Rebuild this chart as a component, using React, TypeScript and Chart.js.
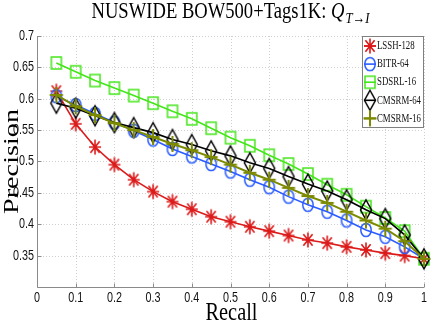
import React, { useEffect, useRef } from 'react';
import { Chart, registerables } from 'chart.js';

Chart.register(...registerables);

// ---------- data ----------
const recall = [0.05, 0.1, 0.15, 0.2, 0.25, 0.3, 0.35, 0.4, 0.45, 0.5, 0.55, 0.6, 0.65, 0.7, 0.75, 0.8, 0.85, 0.9, 0.95, 1.0];
const lssh128 = [0.612, 0.560, 0.523, 0.495, 0.471, 0.452, 0.436, 0.424, 0.412, 0.404, 0.396, 0.389, 0.382, 0.375, 0.370, 0.364, 0.359, 0.354, 0.350, 0.345];
const bitr64 = [0.604, 0.590, 0.576, 0.562, 0.549, 0.535, 0.520, 0.508, 0.496, 0.484, 0.471, 0.459, 0.444, 0.431, 0.420, 0.406, 0.391, 0.380, 0.364, 0.345];
const sdsrl16 = [0.657, 0.643, 0.629, 0.617, 0.605, 0.593, 0.580, 0.568, 0.553, 0.538, 0.525, 0.510, 0.496, 0.480, 0.463, 0.447, 0.428, 0.410, 0.389, 0.345];
const cmsrm64 = [0.593, 0.585, 0.573, 0.562, 0.554, 0.546, 0.535, 0.527, 0.517, 0.509, 0.498, 0.489, 0.476, 0.464, 0.453, 0.439, 0.423, 0.409, 0.383, 0.345];
const cmsrm16 = [0.606, 0.588, 0.574, 0.561, 0.550, 0.539, 0.528, 0.518, 0.507, 0.495, 0.482, 0.471, 0.458, 0.445, 0.434, 0.420, 0.406, 0.393, 0.373, 0.345];
const seriesNames = ['LSSH-128', 'BITR-64', 'SDSRL-16', 'CMSRM-64', 'CMSRM-16'];
const seriesValues = [lssh128, bitr64, sdsrl16, cmsrm64, cmsrm16];

const xTicks = [0, 0.1, 0.2, 0.3, 0.4, 0.5, 0.6, 0.7, 0.8, 0.9, 1];
const xTickLabels = ['0', '0.1', '0.2', '0.3', '0.4', '0.5', '0.6', '0.7', '0.8', '0.9', '1'];
const yTicks = [0.35, 0.4, 0.45, 0.5, 0.55, 0.6, 0.65, 0.7];
const yTickLabels = ['0.35', '0.4', '0.45', '0.5', '0.55', '0.6', '0.65', '0.7'];

const titleMain = 'NUSWIDE BOW500+Tags1K: ';
const titleSym = 'Q';
const titleSub = 'T\u2192I';
const xTitle = 'Recall';
const yTitle = 'Precision';

// ---------- styles ----------
const colors = ['#dc1a1a', '#2a5cff', '#44e61a', '#000000', '#7c8a00'];
const markerKinds = ['star', 'ellipse', 'square', 'diamond', 'cross'];
const lineWidths = [1.6, 1.6, 1.6, 1.6, 2];
const SERIF = '"Liberation Serif", "DejaVu Serif", serif';
const SANS = '"Liberation Sans", Arial, sans-serif';

function makeMarker(kind: string, color: string): HTMLCanvasElement {
  const c = document.createElement('canvas');
  c.width = 26;
  c.height = 26;
  const g = c.getContext('2d') as CanvasRenderingContext2D;
  g.translate(13, 13);
  g.strokeStyle = color;
  g.lineWidth = 1.5;
  g.beginPath();
  if (kind === 'star') {
    g.moveTo(-6, 0); g.lineTo(6, 0);
    g.moveTo(0, -7.5); g.lineTo(0, 7.5);
    g.moveTo(-4.6, -5.8); g.lineTo(4.6, 5.8);
    g.moveTo(-4.6, 5.8); g.lineTo(4.6, -5.8);
    g.lineWidth = 1.6;
  } else if (kind === 'ellipse') {
    g.ellipse(0, 0, 5.2, 6.6, 0, 0, Math.PI * 2);
  } else if (kind === 'square') {
    g.rect(-5, -6, 10, 12);
  } else if (kind === 'diamond') {
    g.moveTo(0, -10); g.lineTo(5.5, 0); g.lineTo(0, 10); g.lineTo(-5.5, 0); g.closePath();
  } else if (kind === 'cross') {
    g.moveTo(-6.5, 0); g.lineTo(6.5, 0);
    g.moveTo(0, -8); g.lineTo(0, 8);
    g.lineWidth = 2;
  }
  g.stroke();
  return c;
}

function drawScaled(
  ctx: CanvasRenderingContext2D, text: string, x: number, y: number, font: string,
  align: CanvasTextAlign, baseline: CanvasTextBaseline, sx: number, sy: number, rot = 0, color = '#000'
) {
  ctx.save();
  ctx.translate(x, y);
  if (rot) ctx.rotate(rot);
  ctx.scale(sx, sy);
  ctx.font = font;
  ctx.fillStyle = color;
  ctx.textAlign = align;
  ctx.textBaseline = baseline;
  ctx.fillText(text, 0, 0);
  ctx.restore();
}

export default function App() {
  const ref = useRef<HTMLCanvasElement | null>(null);

  useEffect(() => {
    const canvas = ref.current;
    if (!canvas) return;
    const markers = markerKinds.map((k, i) => makeMarker(k, colors[i]));

    const customPlugin = {
      id: 'matlabStyle',
      beforeDatasetsDraw(chart: any) {
        const ctx: CanvasRenderingContext2D = chart.ctx;
        const { left, right, top, bottom } = chart.chartArea;
        const xs = chart.scales.x;
        const ys = chart.scales.y;
        ctx.save();
        // grid
        ctx.strokeStyle = '#cfcfcf';
        ctx.lineWidth = 1;
        ctx.setLineDash([1, 2]);
        xTicks.forEach((v) => {
          if (v === 0) return;
          const px = Math.round(xs.getPixelForValue(v)) + 0.5;
          ctx.beginPath(); ctx.moveTo(px, top); ctx.lineTo(px, bottom); ctx.stroke();
        });
        yTicks.forEach((v) => {
          const py = Math.round(ys.getPixelForValue(v)) + 0.5;
          ctx.beginPath(); ctx.moveTo(left, py); ctx.lineTo(right, py); ctx.stroke();
        });
        ctx.setLineDash([]);
        // axes
        ctx.strokeStyle = '#8a8a8a';
        const L = Math.round(left) + 0.5;
        const B = Math.round(bottom) + 0.5;
        ctx.beginPath(); ctx.moveTo(L, top); ctx.lineTo(L, B); ctx.lineTo(right, B); ctx.stroke();
        // inward ticks
        xTicks.forEach((v) => {
          const px = Math.round(xs.getPixelForValue(v)) + 0.5;
          ctx.beginPath(); ctx.moveTo(px, B); ctx.lineTo(px, B - 4); ctx.stroke();
        });
        yTicks.forEach((v) => {
          const py = Math.round(ys.getPixelForValue(v)) + 0.5;
          ctx.beginPath(); ctx.moveTo(L, py); ctx.lineTo(L + 4, py); ctx.stroke();
        });
        ctx.restore();
      },
      afterDraw(chart: any) {
        const ctx: CanvasRenderingContext2D = chart.ctx;
        const { left, right, top, bottom } = chart.chartArea;
        const xs = chart.scales.x;
        const ys = chart.scales.y;
        ctx.save();
        // tick labels
        const tickFont = `12px ${SANS}`;
        ctx.font = tickFont;
        const tsx = 21 / ctx.measureText('0.65').width;
        yTicks.forEach((v, i) => {
          drawScaled(ctx, yTickLabels[i], left - 3, ys.getPixelForValue(v), tickFont, 'right', 'middle', tsx, 1.2, 0, '#111');
        });
        xTicks.forEach((v, i) => {
          drawScaled(ctx, xTickLabels[i], xs.getPixelForValue(v), bottom + 11, tickFont, 'center', 'middle', tsx, 1.2, 0, '#111');
        });

        // axis titles
        const xFont = `20px ${SERIF}`;
        ctx.font = xFont;
        const xsx = 52 / ctx.measureText(xTitle).width;
        drawScaled(ctx, xTitle, (left + right) / 2 + 1, 320, xFont, 'center', 'alphabetic', xsx, 1.25);
        const yFont = `22px ${SERIF}`;
        ctx.font = yFont;
        const ysx = 105 / ctx.measureText(yTitle).width;
        drawScaled(ctx, yTitle, 18, (top + bottom) / 2, yFont, 'center', 'alphabetic', ysx, 1, -Math.PI / 2);

        // title
        const mainFont = `19px ${SERIF}`;
        const symFont = `italic 19px ${SERIF}`;
        const subFont = `italic 13px ${SERIF}`;
        ctx.font = mainFont; const w1 = ctx.measureText(titleMain).width;
        ctx.font = symFont; const w2 = ctx.measureText(titleSym).width + 1;
        ctx.font = subFont; const w3 = ctx.measureText(titleSub).width;
        const target = 278;
        const tsxT = target / (w1 + w2 + w3);
        const startX = (left + right) / 2 - target / 2;
        ctx.save();
        ctx.translate(startX, 18);
        ctx.scale(tsxT, 1.2);
        ctx.fillStyle = '#000';
        ctx.textAlign = 'left';
        ctx.textBaseline = 'alphabetic';
        ctx.font = mainFont; ctx.fillText(titleMain, 0, 0);
        ctx.font = symFont; ctx.fillText(titleSym, w1, 0);
        ctx.font = subFont; ctx.fillText(titleSub, w1 + w2, 4);
        ctx.restore();

        // legend
        const bx = 362.5, by = 36.5, bw = 61, bh = 91;
        ctx.fillStyle = '#ffffff';
        ctx.fillRect(bx, by, bw, bh);
        ctx.strokeStyle = '#808080';
        ctx.lineWidth = 1;
        ctx.strokeRect(bx, by, bw, bh);
        const legFont = `10px ${SERIF}`;
        ctx.font = legFont;
        const lsx = 44 / ctx.measureText('CMSRM-64').width;
        seriesNames.forEach((name, i) => {
          const cy = 46 + i * 18.1;
          ctx.strokeStyle = colors[i];
          ctx.lineWidth = lineWidths[i];
          ctx.beginPath(); ctx.moveTo(364, cy); ctx.lineTo(376, cy); ctx.stroke();
          const m = markers[i];
          ctx.drawImage(m, 370 - m.width / 2, cy - m.height / 2);
          drawScaled(ctx, name, 377, cy, legFont, 'left', 'middle', lsx, 1.25, 0, '#111');
        });
        ctx.restore();
      },
    };

    const order = [4, 3, 2, 1, 0];
    const chart = new Chart(canvas, {
      type: 'line',
      data: {
        datasets: seriesNames.map((name, i) => ({
          label: name,
          data: recall.map((x, j) => ({ x, y: seriesValues[i][j] })),
          borderColor: colors[i],
          backgroundColor: colors[i],
          borderWidth: lineWidths[i],
          pointStyle: markers[i] as any,
          pointRadius: 6,
          pointHoverRadius: 6,
          fill: false,
          tension: 0,
          clip: false as any,
          order: order[i],
        })),
      },
      options: {
        animation: false,
        responsive: false,
        events: [],
        layout: { padding: { top: 36, right: 12, left: 0, bottom: 0 } },
        plugins: {
          legend: { display: false },
          title: { display: false },
          tooltip: { enabled: false },
        },
        scales: {
          x: {
            type: 'linear',
            min: 0,
            max: 1,
            ticks: { display: false },
            grid: { display: false },
            border: { display: false },
            afterFit: (s: any) => { s.height = 40; },
          },
          y: {
            type: 'linear',
            min: 0.3,
            max: 0.7,
            ticks: { display: false },
            grid: { display: false },
            border: { display: false },
            afterFit: (s: any) => { s.width = 37; },
          },
        },
      },
      plugins: [customPlugin],
    });
    return () => chart.destroy();
  }, []);

  return (
    <div style={{ position: 'absolute', left: 0, top: 0, width: 436, height: 327, background: '#fff' }}>
      <canvas ref={ref} width={436} height={327} style={{ display: 'block', width: 436, height: 327 }} />
    </div>
  );
}
